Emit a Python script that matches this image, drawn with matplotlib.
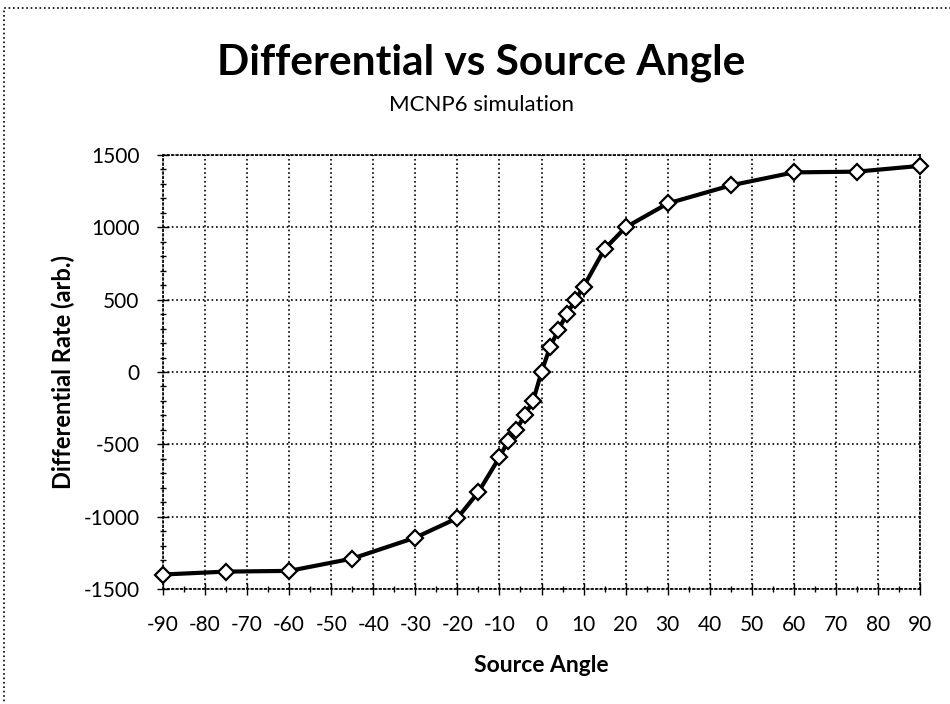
import matplotlib.pyplot as plt
from matplotlib.patches import Rectangle
from matplotlib.ticker import MultipleLocator

# data
angles = [-90, -75, -60, -45, -30, -20, -15, -10, -8, -6, -4, -2, 0,
          2, 4, 6, 8, 10, 15, 20, 30, 45, 60, 75, 90]
rates = [-1400, -1380, -1375, -1290, -1145, -1010, -830, -590, -480, -400, -300, -200, 0,
         170, 290, 400, 495, 590, 850, 1000, 1165, 1290, 1380, 1385, 1425]
x_ticks = list(range(-90, 91, 10))
y_ticks = list(range(-1500, 1501, 500))

plt.rcParams['font.family'] = ['Lato', 'DejaVu Sans']
plt.rcParams['axes.unicode_minus'] = False

fig = plt.figure(figsize=(9.5, 7.04), dpi=100)
ax = fig.add_axes([0.1716, 0.1634, 0.7968, 0.6164])

ax.plot(angles, rates, color='black', lw=3, marker='D', markersize=8,
        markerfacecolor='white', markeredgecolor='black', markeredgewidth=1.6,
        zorder=3, clip_on=False)

ax.set_xlim(-90, 90)
ax.set_ylim(-1500, 1500)
ax.set_xticks(x_ticks)
ax.set_yticks(y_ticks)
ax.xaxis.set_minor_locator(MultipleLocator(5))
ax.yaxis.set_minor_locator(MultipleLocator(100))
ax.tick_params(which='major', direction='inout', length=8, width=1, labelsize=15)
ax.tick_params(axis='x', which='major', pad=15)
ax.tick_params(axis='y', which='major', pad=13)
ax.tick_params(which='minor', direction='inout', length=4, width=1)

ax.grid(True, which='major', color='black', linestyle=':', linewidth=1.2)
for sp in ax.spines.values():
    sp.set_linestyle(':')
    sp.set_linewidth(1.2)

ax.set_xlabel("Source Angle", fontsize=16.5, fontweight='bold')
ax.set_ylabel("Differential Rate (arb.)", fontsize=17, fontweight='bold')
ax.xaxis.set_label_coords(0.5, -0.152)
ax.yaxis.set_label_coords(-0.116, 0.5)

fig.text(0.507, 0.911, "Differential vs Source Angle", ha='center', va='center',
         fontsize=30.5, fontweight='bold')
fig.text(0.507, 0.851, "MCNP6 simulation", ha='center', va='center', fontsize=16)

# dotted chart-area border (only left and top fall inside the image)
fig.patches.append(Rectangle((0.004, -0.05), 1.1, 1.039, transform=fig.transFigure,
                             fill=False, edgecolor='black', linestyle=':', linewidth=1.2))

fig.savefig("out.png", dpi=100)
